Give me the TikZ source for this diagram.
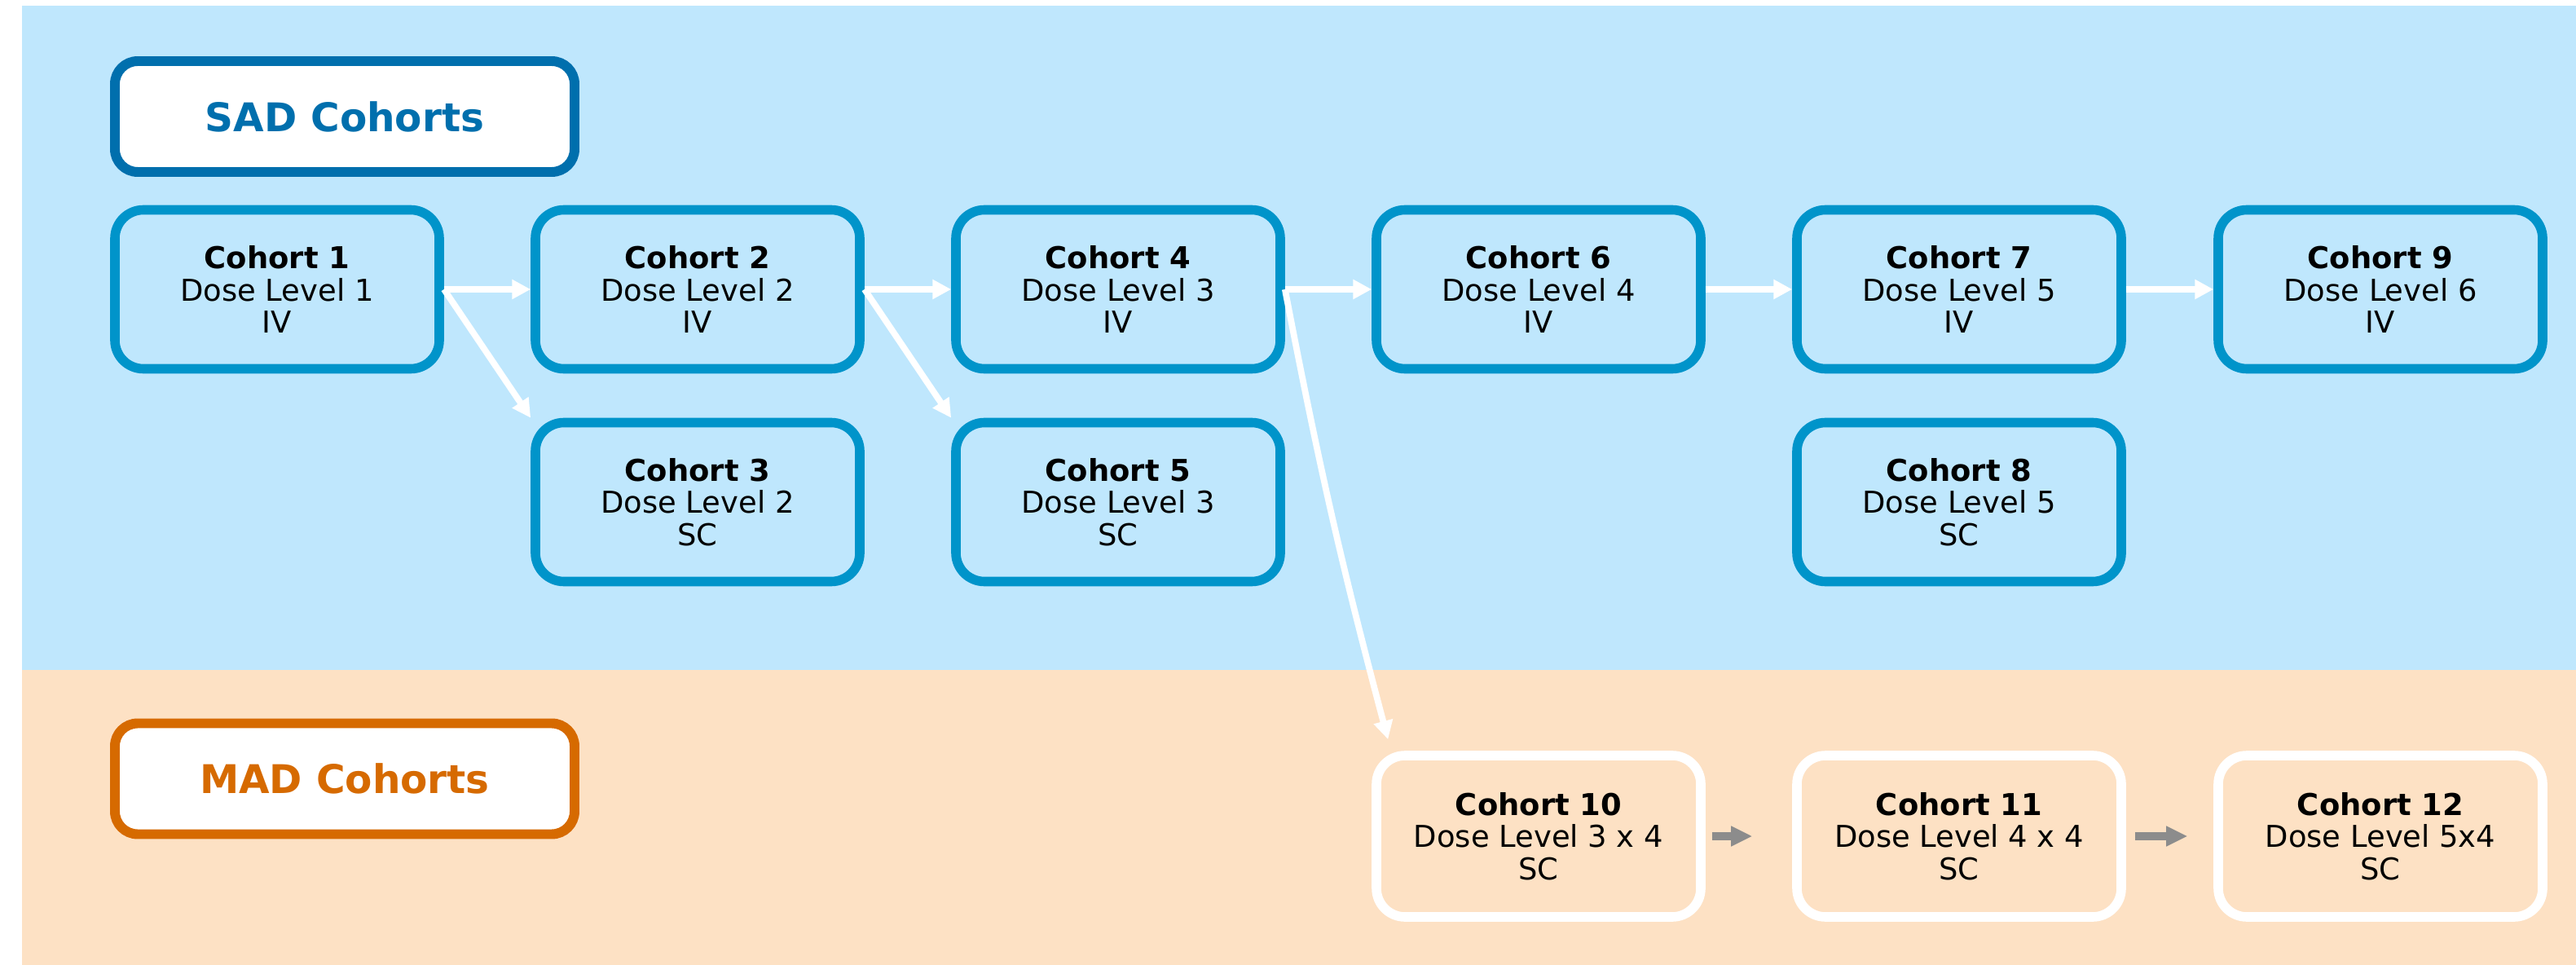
\documentclass[tikz,border=0pt]{standalone}
\usepackage{fontspec}
\setmainfont{DejaVu Sans}
\usetikzlibrary{arrows.meta, positioning}

\definecolor{sadbg}{RGB}{191,231,253}
\definecolor{madbg}{RGB}{253,225,196}
\definecolor{sadline}{RGB}{0,111,173}
\definecolor{cohline}{RGB}{0,148,202}
\definecolor{madline}{RGB}{214,106,0}
\definecolor{stepgrey}{RGB}{140,140,140}

\begin{document}
\begin{tikzpicture}[
  cohort/.style={draw=cohline, line width=3.3pt, rounded corners=0.35cm,
    minimum width=3.98cm, minimum height=1.95cm, align=center, inner sep=0pt,
    font=\fontsize{10.5pt}{11.3pt}\selectfont},
  madcohort/.style={cohort, draw=white, minimum height=1.98cm},
  header/.style={line width=3.4pt, fill=white, rounded corners=0.28cm,
    minimum width=5.64cm, minimum height=1.36cm,
    font=\fontsize{13.8pt}{16pt}\selectfont\bfseries},
  flow/.style={draw=white, line width=2.2pt, -{Triangle[length=6.5pt,width=6.5pt]}},
  nextdose/.style={draw=stepgrey, line width=3pt, -{Triangle[length=7.4pt,width=6.6pt]}}
]
  \useasboundingbox (0,0) rectangle (31.61,-11.84);

  % Pozadí SAD / MAD
  \fill[white] (0,0) rectangle (31.61,-11.84);
  \fill[sadbg] (0.27,-0.07) rectangle (31.61,-8.22);
  \fill[madbg] (0.27,-8.22) rectangle (31.61,-11.84);

  % Nadpisy
  \node[header, draw=sadline, text=sadline] (sad) at (4.23,-1.43) {SAD Cohorts};
  \node[header, draw=madline, text=madline] (mad) at (4.23,-9.555) {MAD Cohorts};

  % Kohorty SAD
  \node[cohort] (c1) at (3.40,-3.55) {\textbf{Cohort 1}\\Dose Level 1\\IV};
  \node[cohort] (c2) at (8.56,-3.55) {\textbf{Cohort 2}\\Dose Level 2\\IV};
  \node[cohort] (c4) at (13.72,-3.55) {\textbf{Cohort 4}\\Dose Level 3\\IV};
  \node[cohort] (c6) at (18.88,-3.55) {\textbf{Cohort 6}\\Dose Level 4\\IV};
  \node[cohort] (c7) at (24.04,-3.55) {\textbf{Cohort 7}\\Dose Level 5\\IV};
  \node[cohort] (c9) at (29.21,-3.55) {\textbf{Cohort 9}\\Dose Level 6\\IV};

  \node[cohort] (c3) at (8.56,-6.16) {\textbf{Cohort 3}\\Dose Level 2\\SC};
  \node[cohort] (c5) at (13.72,-6.16) {\textbf{Cohort 5}\\Dose Level 3\\SC};
  \node[cohort] (c8) at (24.04,-6.16) {\textbf{Cohort 8}\\Dose Level 5\\SC};

  % Kohorty MAD
  \node[madcohort] (c10) at (18.88,-10.26) {\textbf{Cohort 10}\\Dose Level 3 x 4\\SC};
  \node[madcohort] (c11) at (24.04,-10.26) {\textbf{Cohort 11}\\Dose Level 4 x 4\\SC};
  \node[madcohort] (c12) at (29.21,-10.26) {\textbf{Cohort 12}\\Dose Level 5x4\\SC};

  % Šipky
  \draw[flow] (c1.east) -- (c2.west);
  \draw[flow] (c1.east) -- (c3.north west);
  \draw[flow] (c2.east) -- (c4.west);
  \draw[flow] (c2.east) -- (c5.north west);
  \draw[flow] (c4.east) -- (c6.west);
  \draw[flow] (c4.east) to[bend right=2] ([xshift=0.2cm,yshift=0.14cm]c10.north west);
  \draw[flow] (c6.east) -- (c7.west);
  \draw[flow] (c7.east) -- (c9.west);

  \draw[nextdose, shorten <=0.08cm, shorten >=0.49cm] (c10.east) -- (c11.west);
  \draw[nextdose, shorten <=0.11cm, shorten >=0.32cm] (c11.east) -- (c12.west);
\end{tikzpicture}
\end{document}
